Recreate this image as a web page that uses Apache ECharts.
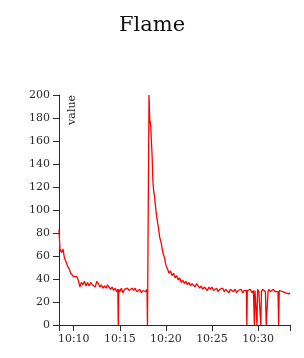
<!DOCTYPE html>
<html>
<head>
<meta charset="utf-8">
<script src="https://cdn.jsdelivr.net/npm/echarts@6/dist/echarts.min.js"></script>
<style>
html,body{margin:0;padding:0;background:#fff;}
#chart{width:304px;height:358px;}
</style>
</head>
<body>
<div id="chart"></div>
<script>
var titleText = 'Flame';
var yName = 'value';
var xStart = '10:08:24';
var xEnd = '10:33:28';
var xTickLabels = ['10:10', '10:15', '10:20', '10:25', '10:30'];
var yTicks = [0, 20, 40, 60, 80, 100, 120, 140, 160, 180, 200];

var times = [
'10:08:24','10:08:30','10:08:40','10:08:50','10:09:00','10:09:10','10:09:20','10:09:30','10:09:40','10:09:50',
'10:10:00','10:10:10','10:10:20','10:10:30','10:10:40','10:10:50','10:11:00','10:11:10','10:11:20','10:11:30',
'10:11:40','10:11:50','10:12:00','10:12:10','10:12:20','10:12:30','10:12:40','10:12:50','10:13:00','10:13:10',
'10:13:20','10:13:30','10:13:40','10:13:50','10:14:00','10:14:10','10:14:20','10:14:30','10:14:40','10:14:47',
'10:14:50','10:14:53','10:15:00','10:15:10','10:15:20','10:15:30','10:15:40','10:15:50','10:16:00','10:16:10',
'10:16:20','10:16:30','10:16:40','10:16:50','10:17:00','10:17:10','10:17:20','10:17:30','10:17:40','10:17:50',
'10:17:57','10:18:00','10:18:10','10:18:15','10:18:20','10:18:25','10:18:30','10:18:35','10:18:40','10:18:45',
'10:18:50','10:19:00','10:19:10','10:19:20','10:19:30','10:19:40','10:19:50','10:20:00','10:20:10','10:20:20',
'10:20:30','10:20:40','10:20:50','10:21:00','10:21:10','10:21:20','10:21:30','10:21:40','10:21:50','10:22:00',
'10:22:10','10:22:20','10:22:30','10:22:40','10:22:50','10:23:00','10:23:10','10:23:20','10:23:30','10:23:40',
'10:23:50','10:24:00','10:24:10','10:24:20','10:24:30','10:24:40','10:24:50','10:25:00','10:25:10','10:25:20',
'10:25:30','10:25:40','10:25:50','10:26:00','10:26:10','10:26:20','10:26:30','10:26:40','10:26:50','10:27:00',
'10:27:10','10:27:20','10:27:30','10:27:40','10:27:50','10:28:00','10:28:10','10:28:20','10:28:30','10:28:40',
'10:28:44','10:28:47','10:28:50','10:29:00','10:29:10','10:29:20','10:29:30','10:29:33','10:29:36','10:29:40',
'10:29:47','10:29:53','10:29:57','10:30:05','10:30:12','10:30:18','10:30:22','10:30:30','10:30:40','10:30:48',
'10:30:53','10:31:00','10:31:05','10:31:10','10:31:20','10:31:30','10:31:40','10:31:50','10:32:00','10:32:10',
'10:32:14','10:32:18','10:32:30','10:32:40','10:32:50','10:33:00','10:33:10','10:33:20','10:33:28'
];

var flame = [
83,66,63,66,58,55,51,49,45,44,
42,41,42,39,33,37,35,38,34,37,
34,37,35,36,33,38,36,33,35,32,
34,32,35,33,31,33,30,32,29,31,
0,31,29,32,28,31,30,32,30,29,
32,30,32,29,30,31,28,30,31,29,
31,0,200,178,175,162,148,126,117,113,
106,94,86,76,71,63,59,52,49,45,
47,43,45,41,43,39,41,37,39,36,
38,35,37,34,36,35,33,36,34,32,
34,31,33,32,30,33,31,33,30,31,
32,29,31,30,32,29,31,30,28,31,
30,29,31,28,30,29,31,28,30,29,
30,0,30,29,31,28,30,29,0,30,
29,0,31,29,30,0,29,31,30,29,
0,0,29,31,29,30,31,29,30,29,
0,30,31,29,30,28,29,27,28
];

var FONT = 'DejaVu Serif';
var TXT = '#2b2b2b';

// seconds since midnight
function toSec(t){ var p = t.split(':'); return (+p[0]) * 3600 + (+p[1]) * 60 + (p[2] ? +p[2] : 0); }
function pad(n){ return (n < 10 ? '0' : '') + n; }
function fmt(s){ var h = Math.floor(s / 3600), m = Math.round((s - h * 3600) / 60); return pad(h) + ':' + pad(m); }

var seriesData = times.map(function(t, i){ return [toSec(t), flame[i]]; });
var labelVals = xTickLabels.map(toSec);
var tickVals = [toSec(xStart)].concat(labelVals, [toSec(xEnd)]);

var chart = echarts.init(document.getElementById('chart'), null, {renderer: 'canvas'});
chart.setOption({
  animation: false,
  backgroundColor: '#fff',
  title: {
    text: titleText,
    left: 'center',
    top: 10,
    textStyle: {fontFamily: FONT, fontSize: 21, fontWeight: 'normal', color: '#111'}
  },
  grid: {left: 59, right: 14, top: 95, bottom: 33, containLabel: false},
  xAxis: {
    type: 'value',
    min: toSec(xStart),
    max: toSec(xEnd),
    splitLine: {show: false},
    axisLine: {show: true, lineStyle: {color: TXT, width: 1}},
    axisTick: {show: true, length: 6, lineStyle: {color: TXT}, customValues: tickVals},
    axisLabel: {
      margin: 9, color: TXT, fontFamily: FONT, fontSize: 11,
      customValues: labelVals,
      formatter: function(v){ return fmt(v); }
    }
  },
  yAxis: {
    type: 'value',
    min: yTicks[0],
    max: yTicks[yTicks.length - 1],
    interval: yTicks[1] - yTicks[0],
    splitLine: {show: false},
    axisLine: {show: true, lineStyle: {color: TXT, width: 1}},
    axisTick: {show: true, length: 6, lineStyle: {color: TXT}},
    axisLabel: {margin: 9, color: TXT, fontFamily: FONT, fontSize: 11}
  },
  graphic: [{
    type: 'text',
    x: 67, y: 95,
    rotation: Math.PI / 2,
    style: {text: yName, fontFamily: FONT, fontSize: 11, fill: TXT, align: 'right', verticalAlign: 'top'}
  }],
  series: [{
    type: 'line',
    data: seriesData,
    showSymbol: false,
    symbol: 'none',
    lineStyle: {color: '#ff0000', width: 1.3},
    itemStyle: {color: '#ff0000'}
  }]
});
</script>
</body>
</html>
